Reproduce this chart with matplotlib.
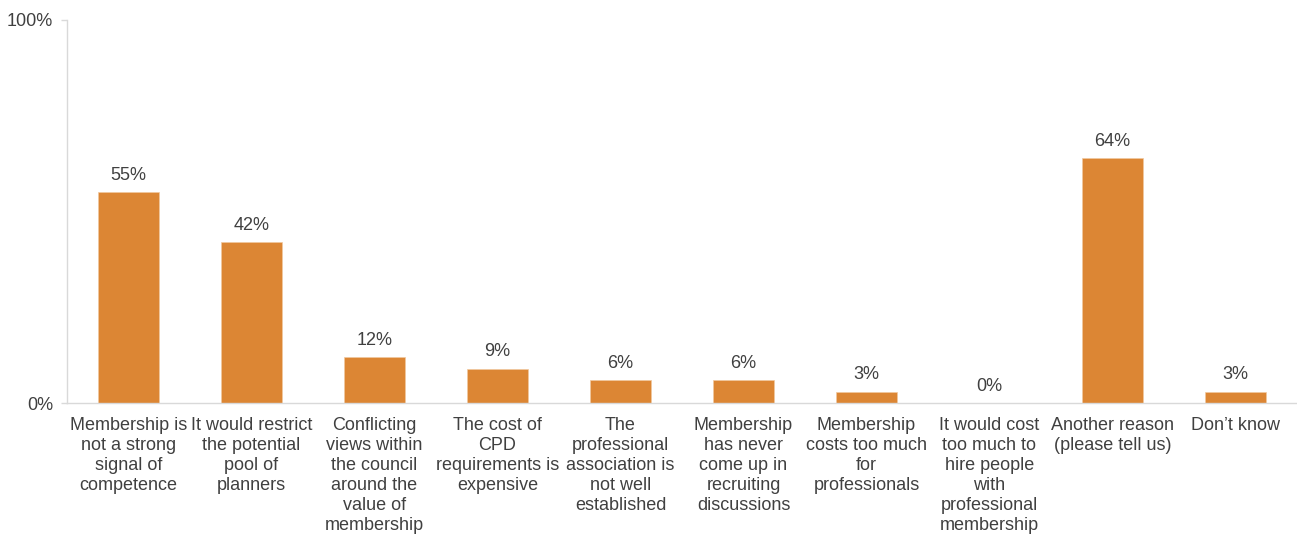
import matplotlib
matplotlib.use("Agg")
import matplotlib.pyplot as plt

categories = [
    "Membership is\nnot a strong\nsignal of\ncompetence",
    "It would restrict\nthe potential\npool of\nplanners",
    "Conflicting\nviews within\nthe council\naround the\nvalue of\nmembership",
    "The cost of\nCPD\nrequirements is\nexpensive",
    "The\nprofessional\nassociation is\nnot well\nestablished",
    "Membership\nhas never\ncome up in\nrecruiting\ndiscussions",
    "Membership\ncosts too much\nfor\nprofessionals",
    "It would cost\ntoo much to\nhire people\nwith\nprofessional\nmembership",
    "Another reason\n(please tell us)",
    "Don\u2019t know",
]
values = [55, 42, 12, 9, 6, 6, 3, 0, 64, 3]
value_labels = ["55%", "42%", "12%", "9%", "6%", "6%", "3%", "0%", "64%", "3%"]
y_ticks = [0, 100]
y_tick_labels = ["0%", "100%"]

plt.rcParams["font.family"] = ["Liberation Sans", "DejaVu Sans"]
text_color = "#404040"
bar_color = "#DC8634"
axis_color = "#D9D9D9"
fs = 13

fig = plt.figure(figsize=(12.97, 5.34), dpi=100)
ax = fig.add_axes([67 / 1297, 1 - 403 / 534, 1 - 67 / 1297, (403 - 20) / 534])

x = list(range(len(values)))
bars = ax.bar(x, values, width=0.5, color=bar_color, edgecolor="#F0C9A0",
              linewidth=0.5, zorder=2)

for xi, v, lab in zip(x, values, value_labels):
    ax.annotate(lab, (xi, v), xytext=(0, 6), textcoords="offset points",
                ha="center", va="bottom", fontsize=fs, color=text_color)

ax.set_xlim(-0.5, len(values) - 0.5)
ax.set_ylim(0, 100)
ax.set_yticks(y_ticks)
ax.set_yticklabels(y_tick_labels, fontsize=fs, color=text_color)
ax.set_xticks(x)
ax.set_xticklabels(categories, fontsize=fs, color=text_color, linespacing=1.23)
ax.tick_params(axis="x", length=0, pad=10)
ax.tick_params(axis="y", length=4, width=1, color=axis_color, pad=6)

for side in ["top", "right"]:
    ax.spines[side].set_visible(False)
for side in ["left", "bottom"]:
    ax.spines[side].set_color(axis_color)
    ax.spines[side].set_linewidth(1)

fig.savefig("out.png", dpi=100)
